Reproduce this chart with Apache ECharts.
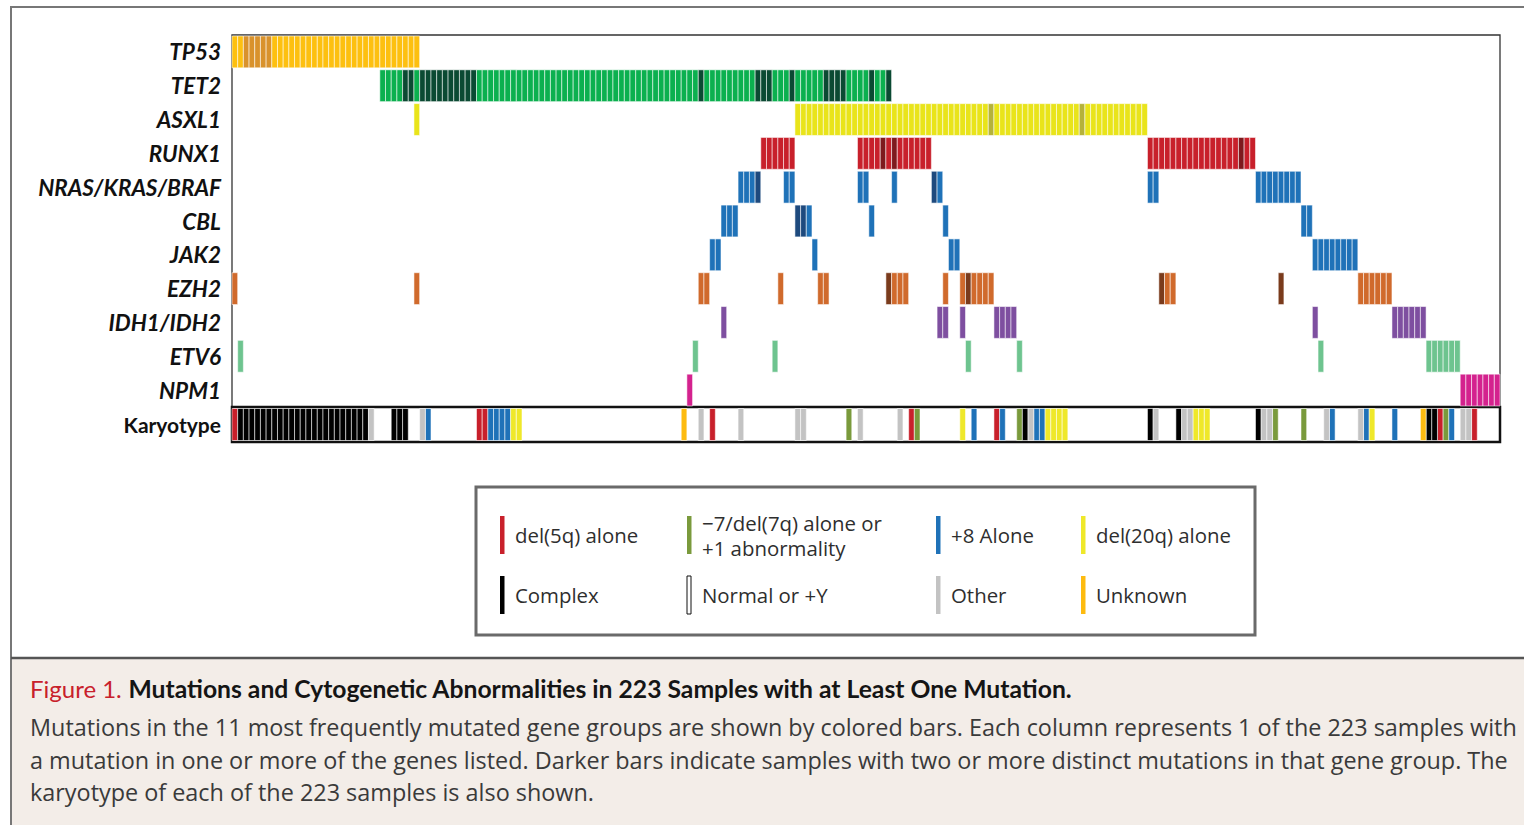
<!DOCTYPE html>
<html>
<head>
<meta charset="utf-8">
<title>Mutations and Cytogenetic Abnormalities</title>
<script src="https://cdn.jsdelivr.net/npm/echarts@6/dist/echarts.min.js"></script>
<style>
  html, body { margin: 0; padding: 0; background: #ffffff; }
  #chart { width: 1524px; height: 825px; }
</style>
</head>
<body>
<div id="chart"></div>
<script>
// ---------------- DATA ----------------
const sampleCount = 223;
const genes = ['TP53', 'TET2', 'ASXL1', 'RUNX1', 'NRAS/KRAS/BRAF', 'CBL', 'JAK2', 'EZH2', 'IDH1/IDH2', 'ETV6', 'NPM1'];
const karyotypeLabel = ['Karyotype'];

// mutated samples given as contiguous runs [first, last] of column index; dark = two or more mutations
const tp53Runs  = [[0, 32]];
const tp53Dark  = [2, 3, 4, 5, 6];
const tet2Runs  = [[26, 115]];
const tet2Dark  = [30, 31, 33, 34, 35, 36, 37, 38, 39, 40, 41, 42, 82, 92, 93, 94, 98, 104, 105, 106, 107, 112, 115];
const asxl1Runs = [[32, 32], [99, 160]];
const asxl1Dark = [133, 149];
const runx1Runs = [[93, 98], [110, 122], [161, 179]];
const runx1Dark = [114, 116, 177];
const rasRuns   = [[89, 92], [97, 98], [110, 111], [116, 116], [123, 124], [161, 162], [180, 187]];
const rasDark   = [92, 123];
const cblRuns   = [[86, 88], [99, 101], [112, 112], [125, 125], [188, 189]];
const cblDark   = [99, 100];
const jak2Runs  = [[84, 85], [102, 102], [126, 127], [190, 197]];
const jak2Dark  = [];
const ezh2Runs  = [[0, 0], [32, 32], [82, 83], [96, 96], [103, 104], [115, 118], [125, 125], [128, 133], [163, 165], [184, 184], [198, 203]];
const ezh2Dark  = [115, 129, 163, 184];
const idhRuns   = [[86, 86], [124, 125], [128, 128], [134, 137], [190, 190], [204, 209]];
const idhDark   = [];
const etv6Runs  = [[1, 1], [81, 81], [95, 95], [129, 129], [138, 138], [191, 191], [210, 215]];
const etv6Dark  = [];
const npm1Runs  = [[80, 80], [216, 222]];
const npm1Dark  = [];

// karyotype of each sample (columns not listed are "Normal or +Y")
const karyoDel5q   = [0, 43, 44, 84, 119, 134, 212, 218];
const karyoDel7q   = [108, 120, 138, 183, 188, 213];
const karyoPlus8   = [34, 45, 46, 47, 48, 130, 135, 141, 142, 193, 199, 204, 214];
const karyoDel20q  = [49, 50, 128, 143, 144, 145, 146, 169, 170, 171, 200];
const karyoComplex = [1, 2, 3, 4, 5, 6, 7, 8, 9, 10, 11, 12, 13, 14, 15, 16, 17, 18, 19, 20, 21, 22, 23, 28, 29, 30, 139, 161, 166, 180, 210, 211];
const karyoOther   = [24, 33, 82, 89, 99, 100, 110, 117, 140, 162, 167, 168, 181, 182, 192, 198, 216, 217];
const karyoUnknown = [79, 209];

const legendLabels = ['del(5q) alone', '\u22127/del(7q) alone or\n+1 abnormality', '+8 Alone', 'del(20q) alone',
                      'Complex', 'Normal or +Y', 'Other', 'Unknown'];

// ---------------- STYLE ----------------
const geneColors = [
  ['#FDC010', '#D9922C'], // TP53
  ['#0BB04F', '#0B4A33'], // TET2
  ['#E9E41A', '#B5B23A'], // ASXL1
  ['#C8202B', '#7E1A1E'], // RUNX1
  ['#1F72B8', '#1E4A7E'], // NRAS
  ['#1F72B8', '#1E4A7E'], // CBL
  ['#1F72B8', '#1E4A7E'], // JAK2
  ['#D06A2C', '#7A3B1C'], // EZH2
  ['#7E4FA0', '#5A3478'], // IDH
  ['#6EC48F', '#3E8A5E'], // ETV6
  ['#D4228E', '#8E1760']  // NPM1
];
const karyoColors = ['#C8202B', '#7A9A3C', '#1F72B8', '#EFE82A', '#000000', '#C3C3C3', '#FDBB10'];

// ---------------- BUILD ----------------
const sampleAxis = [];
for (let i = 0; i < sampleCount; i++) sampleAxis.push(String(i + 1));

const geneRuns = [tp53Runs, tet2Runs, asxl1Runs, runx1Runs, rasRuns, cblRuns, jak2Runs, ezh2Runs, idhRuns, etv6Runs, npm1Runs];
const geneDark = [tp53Dark, tet2Dark, asxl1Dark, runx1Dark, rasDark, cblDark, jak2Dark, ezh2Dark, idhDark, etv6Dark, npm1Dark];
const geneData = [];
geneRuns.forEach((runs, r) => {
  runs.forEach(([s, e]) => {
    for (let c = s; c <= e; c++) geneData.push([c, r, geneDark[r].indexOf(c) >= 0 ? 1 : 0]);
  });
});

const karyoLists = [karyoDel5q, karyoDel7q, karyoPlus8, karyoDel20q, karyoComplex, karyoOther, karyoUnknown];
const karyoData = [];
karyoLists.forEach((list, k) => list.forEach(c => karyoData.push([c, 0, k])));

function renderGene(params, api) {
  const col = api.value(0), row = api.value(1), dark = api.value(2);
  const p = api.coord([col, row]);
  const sz = api.size([1, 1]);
  return {
    type: 'rect',
    shape: { x: p[0] - sz[0] / 2, y: p[1] - sz[1] / 2 + 1, width: sz[0], height: sz[1] - 2 },
    style: { fill: geneColors[row][dark], stroke: 'rgba(255,255,255,0.6)', lineWidth: 0.9 }
  };
}
function renderKaryo(params, api) {
  const col = api.value(0), kind = api.value(2);
  const p = api.coord([col, 0]);
  const sz = api.size([1, 1]);
  return {
    type: 'rect',
    shape: { x: p[0] - sz[0] / 2, y: p[1] - sz[1] / 2 + 1.5, width: sz[0], height: sz[1] - 3 },
    style: { fill: karyoColors[kind], stroke: 'rgba(255,255,255,0.6)', lineWidth: 0.9 }
  };
}

const labelFont = 'Lato, "Liberation Sans", sans-serif';
const textFont = '"Open Sans", "Noto Sans", sans-serif';
const titleFont = 'Lato, "Open Sans", sans-serif';

// legend graphic
const legendX = [500, 687, 936, 1081];
const legendY = [535, 595];
const legendEls = [
  { type: 'rect', shape: { x: 476, y: 487, width: 779, height: 148 }, style: { fill: '#fff', stroke: '#6a6a6a', lineWidth: 3 } }
];
const legendSwatch = [karyoColors[0], karyoColors[1], karyoColors[2], karyoColors[3], karyoColors[4], '#ffffff', karyoColors[5], karyoColors[6]];
legendLabels.forEach((lab, i) => {
  const x = legendX[i % 4], y = legendY[Math.floor(i / 4)];
  legendEls.push({
    type: 'rect',
    shape: { x: x, y: y - 19, width: i === 5 ? 4 : 4.5, height: 38 },
    style: { fill: legendSwatch[i], stroke: i === 5 ? '#111' : null, lineWidth: i === 5 ? 1 : 0 }
  });
  legendEls.push({
    type: 'text', x: x + 15, y: y,
    style: { text: lab, fill: '#2e2e2e', font: '20.4px ' + textFont, verticalAlign: 'middle', lineHeight: 25 }
  });
});

const captionLines = [
  'Mutations in the 11 most frequently mutated gene groups are shown by colored bars. Each column represents 1 of the 223 samples with',
  'a mutation in one or more of the genes listed. Darker bars indicate samples with two or more distinct mutations in that gene group. The',
  'karyotype of each of the 223 samples is also shown.'
];

const graphics = [
  { type: 'rect', shape: { x: 11, y: 658, width: 1513, height: 167 }, style: { fill: '#F3EDE8' }, z: -10 },
  { type: 'line', shape: { x1: 10, y1: 7, x2: 1524, y2: 7 }, style: { stroke: '#777', lineWidth: 2 } },
  { type: 'line', shape: { x1: 11, y1: 6, x2: 11, y2: 825 }, style: { stroke: '#777', lineWidth: 2 } },
  { type: 'line', shape: { x1: 11, y1: 658, x2: 1524, y2: 658 }, style: { stroke: '#555', lineWidth: 2.5 } },
  {
    type: 'text', x: 30, y: 688,
    style: {
      text: '{r|Figure 1.}  {b|Mutations and Cytogenetic Abnormalities in 223 Samples with at Least One Mutation.}',
      verticalAlign: 'middle',
      rich: {
        r: { fill: '#C8202B', fontSize: 24, fontFamily: titleFont },
        b: { fill: '#151515', fontSize: 24.7, fontWeight: 'bold', fontFamily: titleFont }
      }
    }
  }
].concat(captionLines.map((t, i) => ({
  type: 'text', x: 30, y: 727 + i * 32.5,
  style: { text: t, fill: '#3a3a3a', font: '23.4px ' + textFont, verticalAlign: 'middle' }
}))).concat(legendEls);

const chart = echarts.init(document.getElementById('chart'), null, { renderer: 'svg' });
chart.setOption({
  animation: false,
  backgroundColor: '#ffffff',
  grid: [
    { left: 232, top: 35, width: 1268, height: 372, show: true, borderColor: '#333', borderWidth: 1.3, backgroundColor: 'transparent' },
    { left: 232, top: 407, width: 1268, height: 35, show: true, borderColor: '#111', borderWidth: 2.5, backgroundColor: 'transparent' }
  ],
  xAxis: [
    { type: 'category', gridIndex: 0, data: sampleAxis, boundaryGap: true, axisLine: { show: false }, axisTick: { show: false }, axisLabel: { show: false }, splitLine: { show: false } },
    { type: 'category', gridIndex: 1, data: sampleAxis, boundaryGap: true, axisLine: { show: false }, axisTick: { show: false }, axisLabel: { show: false }, splitLine: { show: false } }
  ],
  yAxis: [
    { type: 'category', gridIndex: 0, data: genes, inverse: true, axisLine: { show: false }, axisTick: { show: false }, splitLine: { show: false },
      axisLabel: { margin: 11, color: '#111', fontSize: 22.5, fontWeight: 'bold', fontStyle: 'italic', fontFamily: labelFont } },
    { type: 'category', gridIndex: 1, data: karyotypeLabel, axisLine: { show: false }, axisTick: { show: false }, splitLine: { show: false },
      axisLabel: { margin: 11, color: '#111', fontSize: 21, fontWeight: 'bold', fontFamily: labelFont } }
  ],
  series: [
    { type: 'custom', name: 'Mutations', xAxisIndex: 0, yAxisIndex: 0, renderItem: renderGene, data: geneData, encode: { x: 0, y: 1 } },
    { type: 'custom', name: 'Karyotype', xAxisIndex: 1, yAxisIndex: 1, renderItem: renderKaryo, data: karyoData, encode: { x: 0, y: 1 } }
  ],
  graphic: graphics
});
</script>
</body>
</html>
